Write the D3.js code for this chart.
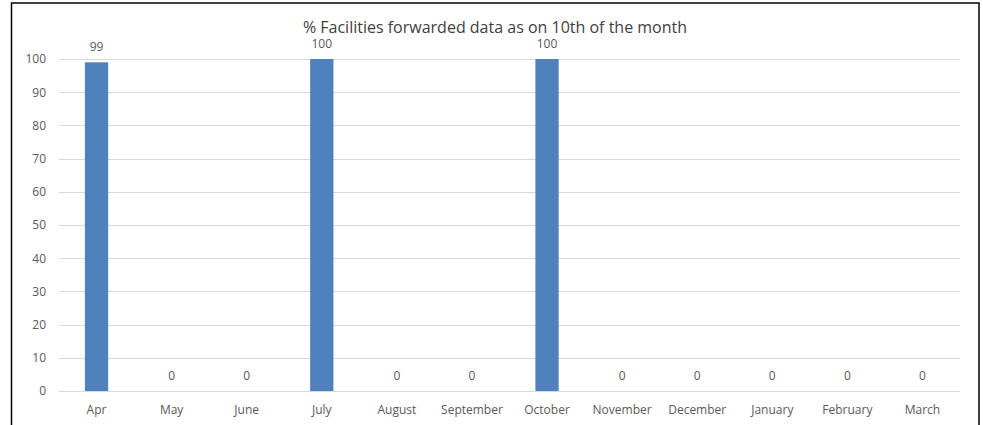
<!DOCTYPE html>
<html>
<head>
<meta charset="utf-8">
<script src="https://cdn.jsdelivr.net/npm/d3@7"></script>
<style>
  body { margin: 0; background: #fff; }
  text { font-family: "Open Sans", "Liberation Sans", sans-serif; fill: #595959; }
</style>
</head>
<body>
<script>
var months = ["Apr", "May", "June", "July", "August", "September", "October",
              "November", "December", "January", "February", "March"];
var values = [99, 0, 0, 100, 0, 0, 100, 0, 0, 0, 0, 0];
var yTicks = [0, 10, 20, 30, 40, 50, 60, 70, 80, 90, 100];
var title = "% Facilities forwarded data as on 10th of the month";

var width = 983, height = 425;
var plotLeft = 59, plotRight = 960, plotTop = 59, plotBottom = 391;
var barColor = "#4f81bd";

var svg = d3.select("body").append("svg")
    .attr("width", width)
    .attr("height", height);

// chart frame
svg.append("rect")
    .attr("x", 11.5)
    .attr("y", 3)
    .attr("width", 967.5)
    .attr("height", 440)
    .attr("fill", "#fff")
    .attr("stroke", "#000")
    .attr("stroke-width", 1.5);

var x = d3.scaleBand()
    .domain(months)
    .range([plotLeft, plotRight])
    .paddingInner(0.69)
    .paddingOuter(0.345);

var y = d3.scaleLinear()
    .domain([0, 100])
    .range([plotBottom, plotTop]);

// gridlines
svg.append("g")
    .selectAll("line")
    .data(yTicks)
    .join("line")
    .attr("x1", plotLeft)
    .attr("x2", plotRight)
    .attr("y1", d => Math.round(y(d)) + 0.5)
    .attr("y2", d => Math.round(y(d)) + 0.5)
    .attr("stroke", "#d9d9d9")
    .attr("stroke-width", 1);

// y axis labels
var yAxis = svg.append("g")
    .attr("transform", "translate(" + (plotLeft - 13) + ",0)")
    .call(d3.axisLeft(y).tickValues(yTicks).tickSize(0).tickPadding(0));
yAxis.select(".domain").remove();
yAxis.selectAll("text")
    .style("font-size", "12px")
    .style("fill", "#595959")
    .style("font-family", "'Open Sans', sans-serif");

// x axis labels
var xAxis = svg.append("g")
    .attr("transform", "translate(0," + plotBottom + ")")
    .call(d3.axisBottom(x).tickSize(0).tickPadding(14));
xAxis.select(".domain").remove();
xAxis.selectAll("text")
    .style("font-size", "12px")
    .style("fill", "#595959")
    .style("font-family", "'Open Sans', sans-serif");

// bars
svg.append("g")
    .selectAll("rect")
    .data(values)
    .join("rect")
    .attr("x", (d, i) => x(months[i]))
    .attr("y", d => y(d))
    .attr("width", x.bandwidth())
    .attr("height", d => plotBottom - y(d))
    .attr("fill", barColor);

// data labels
svg.append("g")
    .selectAll("text")
    .data(values)
    .join("text")
    .attr("x", (d, i) => x(months[i]) + x.bandwidth() / 2)
    .attr("y", d => y(d) - 11)
    .attr("text-anchor", "middle")
    .style("font-size", "12px")
    .text(d => d);

// title
svg.append("text")
    .attr("x", 495)
    .attr("y", 33)
    .attr("text-anchor", "middle")
    .style("font-size", "16px")
    .style("fill", "#404040")
    .text(title);
</script>
</body>
</html>
